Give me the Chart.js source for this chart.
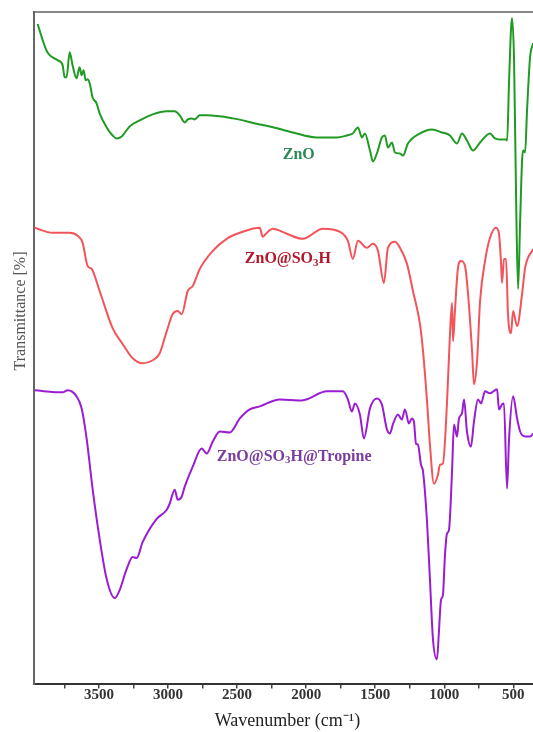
<!DOCTYPE html>
<html>
<head>
<meta charset="utf-8">
<script src="https://cdn.jsdelivr.net/npm/chart.js@4.4.1/dist/chart.umd.min.js"></script>
<style>
  html, body { margin: 0; padding: 0; background: #fff; overflow: hidden; }
  #wrap { width: 533px; height: 732px; overflow: hidden; }
</style>
</head>
<body>
<div id="wrap"><canvas id="ftir" width="560" height="732" style="width:560px;height:732px"></canvas></div>
<script>
// wavenumbers (cm-1) and transmittance (arbitrary, stacked offsets)
const wnZnO = [3944, 3881, 3857, 3799, 3763, 3748, 3734, 3712, 3691, 3662, 3640, 3625, 3611, 3596, 3582, 3567, 3546, 3517, 3495, 3444, 3401, 3372, 3335, 3278, 3205, 3111, 3009, 2951, 2915, 2879, 2857, 2828, 2807, 2770, 2720, 2531, 2336, 2263, 2096, 1923, 1850, 1778, 1705, 1662, 1625, 1596, 1575, 1538, 1517, 1488, 1452, 1430, 1408, 1379, 1357, 1321, 1299, 1263, 1176, 1089, 1017, 959, 908, 872, 836, 792, 741, 669, 633, 597, 553, 545, 531, 510, 495, 480, 466, 451, 437, 430, 415, 401, 379, 357];
const tZnO = [658, 632, 627, 622, 617, 605, 605, 630, 617, 604, 615, 607, 612, 602, 603, 599, 585, 579, 569, 555, 547, 544, 546, 556, 562, 568, 571, 571, 567, 560, 563, 564, 563, 567, 567, 564, 558, 556, 550, 545, 545, 545, 547, 549, 555, 545, 549, 532, 521, 529, 545, 547, 535, 540, 530, 529, 527, 539, 549, 553, 550, 547, 539, 549, 542, 532, 540, 549, 544, 543, 543, 542, 602, 664, 622, 482, 394, 462, 522, 532, 530, 572, 625, 639];

const wnSO3H = [3966, 3835, 3712, 3654, 3618, 3582, 3553, 3495, 3401, 3328, 3256, 3183, 3111, 3060, 3009, 2966, 2930, 2901, 2857, 2821, 2770, 2676, 2575, 2480, 2336, 2314, 2292, 2241, 2140, 2024, 1879, 1756, 1698, 1662, 1625, 1560, 1517, 1480, 1437, 1408, 1357, 1321, 1270, 1227, 1176, 1154, 1125, 1104, 1075, 1046, 1031, 1010, 980, 959, 944, 937, 923, 901, 879, 850, 828, 799, 785, 763, 741, 705, 669, 626, 604, 589, 582, 568, 553, 539, 517, 502, 473, 437, 415, 357];
const tSO3H = [455, 450, 450, 447, 440, 417, 414, 392, 355, 339, 325, 320, 323, 330, 352, 369, 372, 369, 392, 397, 414, 432, 444, 450, 455, 446, 449, 454, 449, 444, 454, 451, 442, 424, 442, 435, 439, 432, 400, 435, 441, 435, 419, 392, 359, 332, 282, 239, 200, 209, 219, 220, 282, 349, 380, 342, 372, 415, 422, 417, 389, 332, 299, 322, 382, 422, 445, 455, 449, 419, 400, 424, 424, 369, 350, 372, 357, 389, 415, 434];

const wnTrop = [3966, 3763, 3727, 3662, 3625, 3589, 3546, 3495, 3444, 3386, 3350, 3299, 3256, 3227, 3183, 3082, 3009, 2988, 2951, 2930, 2901, 2879, 2821, 2756, 2720, 2676, 2625, 2553, 2480, 2408, 2336, 2191, 2031, 1850, 1734, 1698, 1669, 1647, 1611, 1582, 1538, 1488, 1452, 1415, 1394, 1372, 1336, 1307, 1285, 1256, 1234, 1220, 1205, 1191, 1169, 1154, 1125, 1104, 1082, 1053, 1039, 1024, 1010, 995, 981, 966, 944, 930, 908, 894, 872, 857, 836, 807, 785, 756, 734, 705, 669, 618, 604, 582, 568, 546, 531, 502, 473, 451, 415, 379, 357];
const tTrop = [293, 291, 293, 287, 275, 245, 195, 145, 105, 86, 94, 115, 127, 126, 142, 165, 174, 180, 194, 184, 187, 197, 217, 235, 230, 242, 252, 251, 265, 274, 277, 284, 283, 292, 292, 284, 272, 280, 269, 245, 275, 285, 279, 254, 250, 259, 269, 264, 274, 260, 265, 262, 240, 239, 219, 212, 162, 105, 45, 25, 52, 84, 89, 129, 150, 154, 212, 259, 247, 265, 270, 284, 252, 237, 262, 284, 280, 292, 290, 294, 274, 279, 280, 195, 245, 287, 265, 252, 247, 247, 250];

const xTicks = [3750, 3500, 3250, 3000, 2750, 2500, 2250, 2000, 1750, 1500, 1250, 1000, 750, 500];

const serif = '"Liberation Serif", "Times New Roman", serif';

function pts(xs, ys) {
  return xs.map((x, i) => ({ x: x, y: ys[i] }));
}

// sample names written beside each trace, plus the rotated y title
const notas = [
  { parts: [['ZnO', 0]], wn: 2169, t: 528, color: '#2b8a55' },
  { parts: [['ZnO@SO', 0], ['3', 1], ['H', 0]], wn: 2444, t: 424, color: '#b3162a' },
  { parts: [['ZnO@SO', 0], ['3', 1], ['H@Tropine', 0]], wn: 2647, t: 227, color: '#7a3d9e' }
];

const etiquetas = {
  id: 'etiquetas',
  afterDatasetsDraw(chart) {
    const { ctx, scales, chartArea } = chart;
    ctx.save();
    ctx.textBaseline = 'middle';
    ctx.textAlign = 'left';
    notas.forEach(n => {
      let x = scales.x.getPixelForValue(n.wn);
      const y = scales.y.getPixelForValue(n.t);
      ctx.fillStyle = n.color;
      n.parts.forEach(([txt, sub]) => {
        ctx.font = 'bold ' + (sub ? 11 : 16) + 'px ' + serif;
        ctx.fillText(txt, x, sub ? y + 4 : y);
        x += ctx.measureText(txt).width;
      });
    });
    // y axis title sits above the middle in the original
    ctx.translate(chartArea.left - 13, chartArea.top + 299);
    ctx.rotate(-Math.PI / 2);
    ctx.textAlign = 'center';
    ctx.font = '16px ' + serif;
    ctx.fillStyle = '#555';
    ctx.fillText('Transmittance [%]', 0, 0);
    ctx.restore();
  }
};

const ctx = document.getElementById('ftir').getContext('2d');
const grafica = new Chart(ctx, {
  type: 'line',
  data: {
    datasets: [
      { label: 'ZnO', data: pts(wnZnO, tZnO), borderColor: '#1f9a22' },
      { label: 'ZnO@SO3H', data: pts(wnSO3H, tSO3H), borderColor: '#f2545a' },
      { label: 'ZnO@SO3H@Tropine', data: pts(wnTrop, tTrop), borderColor: '#9a1cd4' }
    ]
  },
  options: {
    responsive: false,
    animation: false,
    devicePixelRatio: 1,
    layout: { padding: { left: 34, top: 12, right: 19, bottom: 0 } },
    elements: {
      point: { radius: 0 },
      line: { borderWidth: 2, tension: 0, cubicInterpolationMode: 'monotone' }
    },
    plugins: { legend: { display: false }, tooltip: { enabled: false } },
    scales: {
      x: {
        type: 'linear',
        position: 'bottom',
        reverse: true,
        min: 300,
        max: 3970,
        afterBuildTicks: (axis) => { axis.ticks = xTicks.map(v => ({ value: v })); },
        ticks: {
          autoSkip: false,
          maxRotation: 0,
          padding: -2,
          color: '#333',
          font: { family: serif, size: 15, weight: 'bold' },
          callback: (v) => (v % 500 === 0 ? String(v) : '')
        },
        grid: { drawOnChartArea: false, drawTicks: true, tickLength: 4, color: '#444', lineWidth: 1.5 },
        border: { display: true, color: '#333', width: 2 },
        title: {
          display: true,
          text: 'Wavenumber (cm⁻¹)',
          color: '#222',
          font: { family: serif, size: 18 },
          padding: { top: 8, bottom: 0 }
        }
      },
      xTop: {
        type: 'linear',
        position: 'top',
        min: 0,
        max: 1,
        ticks: { display: false },
        grid: { display: false, drawTicks: false },
        border: { display: true, color: '#888', width: 2 }
      },
      y: {
        min: 0,
        max: 670,
        ticks: { display: false },
        grid: { display: false, drawTicks: false },
        border: { display: true, color: '#666', width: 2 }
      }
    }
  },
  plugins: [etiquetas]
});
</script>
</body>
</html>
